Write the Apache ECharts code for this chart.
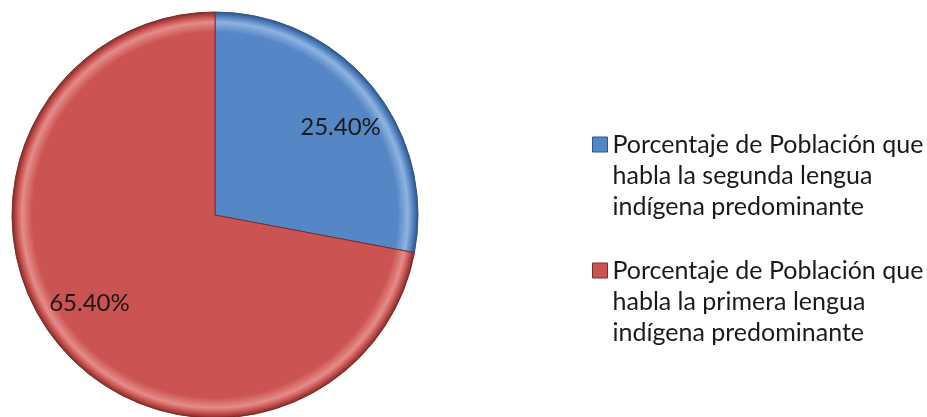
<!DOCTYPE html>
<html>
<head>
<meta charset="utf-8">
<script src="https://cdn.jsdelivr.net/npm/echarts@6/dist/echarts.min.js"></script>
<style>html,body{margin:0;padding:0;background:#fff}#c{width:927px;height:417px}</style>
</head>
<body>
<div id="c"></div>
<script>
const categories = [
  'Porcentaje de Población que habla la segunda lengua indígena predominante',
  'Porcentaje de Población que habla la primera lengua indígena predominante'
];
const legendLines = [
  ['Porcentaje de Población que', 'habla la segunda lengua', 'indígena predominante'],
  ['Porcentaje de Población que', 'habla la primera lengua', 'indígena predominante']
];
const values = [25.40, 65.40];
const labels = ['25.40%', '65.40%'];
const colors = ['#5587C6', '#CB5452'];
const edgeLight = ['#8FB3E0', '#E48C89'];
const edgeDark = ['#2E5585', '#7E2C2A'];

const CX = 215, CY = 215, R = 203;
const FONT = 'Lato';

function fill(i) {
  return {
    type: 'radial', x: CX, y: CY, r: R, global: true,
    colorStops: [
      { offset: 0, color: colors[i] },
      { offset: 0.9, color: colors[i] },
      { offset: 0.95, color: edgeLight[i] },
      { offset: 0.975, color: colors[i] },
      { offset: 1, color: edgeDark[i] }
    ]
  };
}

const chart = echarts.init(document.getElementById('c'));
chart.setOption({
  animation: false,
  backgroundColor: '#fff',
  legend: {
    orient: 'vertical',
    left: 592,
    top: 67,
    padding: 0,
    itemWidth: 15,
    itemHeight: 15,
    itemGap: -29,
    icon: 'rect',
    data: categories.map((n, i) => ({ name: n, itemStyle: { color: colors[i], borderColor: edgeDark[i], borderWidth: 1 } })),
    formatter: function (name) {
      const i = categories.indexOf(name);
      return '\n\n' + legendLines[i].join('\n');
    },
    textStyle: {
      fontFamily: FONT,
      fontSize: 25,
      color: '#1a1a1a',
      lineHeight: 31
    }
  },
  series: [{
    type: 'pie',
    center: [CX, CY],
    radius: [0, R],
    startAngle: 90,
    clockwise: true,
    silent: true,
    data: categories.map((n, i) => ({
      name: n,
      value: values[i],
      itemStyle: { color: fill(i), borderColor: edgeDark[i], borderWidth: 1 }
    })),
    label: {
      show: true,
      position: 'inside',
      formatter: function (p) { return labels[p.dataIndex]; },
      fontFamily: FONT,
      fontSize: 24,
      color: '#1a1a1a'
    },
    labelLine: { show: false },
    labelLayout: function (p) {
      const lx = p.labelRect.x + p.labelRect.width / 2;
      const ly = p.labelRect.y + p.labelRect.height / 2;
      return { dx: (lx - CX) * 0.56, dy: (ly - CY) * 0.32 };
    }
  }]
});
</script>
</body>
</html>
